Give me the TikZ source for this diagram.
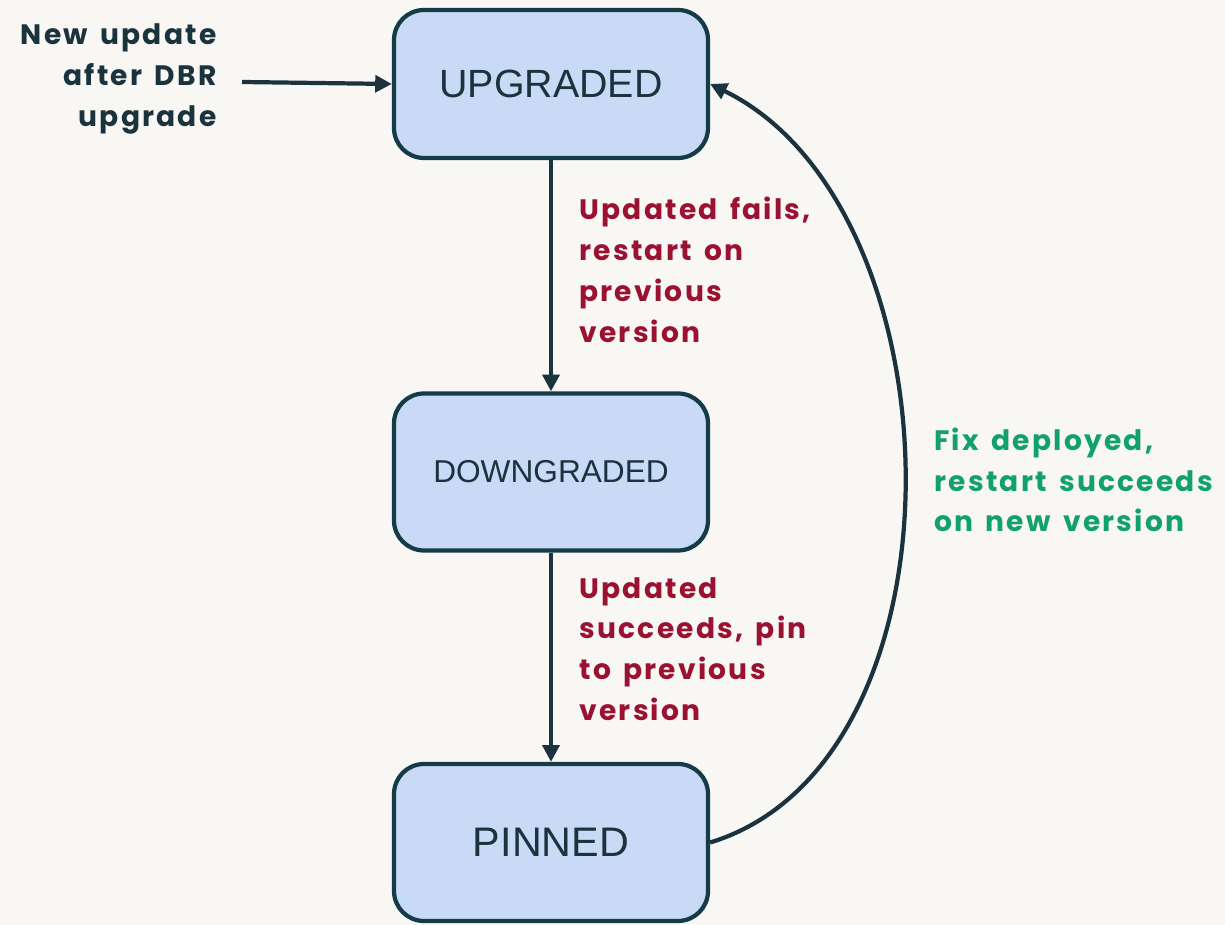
\documentclass[tikz,border=0pt]{standalone}
\usepackage{fontspec}
\setmainfont{Liberation Sans}
\newfontfamily\notefont[LetterSpace=8,WordSpace=1.5]{Poppins}
\usetikzlibrary{arrows.meta}

\definecolor{bgcol}{HTML}{F8F7F4}
\definecolor{boxfill}{HTML}{C8DAF5}
\definecolor{boxline}{HTML}{143B47}
\definecolor{inkcol}{HTML}{1B333D}
\definecolor{failcol}{HTML}{9A1131}
\definecolor{fixcol}{HTML}{12A16E}

\tikzset{
	state/.style={draw=boxline, fill=boxfill, line width=2.4pt,
		rounded corners=0.6cm, minimum width=6.28cm, minimum height=3.14cm,
		text=inkcol, inner sep=0pt},
	flow/.style={draw=inkcol, line width=2.4pt,
		-{Triangle[length=9.5pt,width=9.5pt]}},
	note/.style={font=\notefont\bfseries\fontsize{16}{23.2}\selectfont,
		inner sep=0pt}
}

\begin{document}
\begin{tikzpicture}
	% --- canvas
	\fill[bgcol] (0,0) rectangle (24.5,18.5);
	\useasboundingbox (0,0) rectangle (24.5,18.5);

	% --- the three states
	\node[state, minimum height=2.96cm, font=\fontsize{22.4}{26}\selectfont]
		(upgraded) at (11.02,16.82) {UPGRADED};
	\node[state, font=\fontsize{18}{22}\selectfont]
		(downgraded) at (11.02,9.06) {DOWNGRADED};
	\node[state, font=\fontsize{23.5}{27}\selectfont]
		(pinned) at (11.02,1.65) {PINNED};

	% --- entry
	\node[note, text=inkcol, anchor=east, align=right] (entry) at (4.34,16.92)
		{New update\\after DBR\\upgrade};
	\coordinate (entryend) at (4.84,16.86);
	\draw[flow] (entryend) -- (upgraded.west);

	% --- transitions
	\draw[flow] (upgraded) -- (downgraded);
	\draw[flow] (downgraded) -- (pinned);
	\draw[flow] (pinned.east) .. controls +(5.3,1.62) and +(5.04,-2.46) .. (upgraded.east);

	% --- labels
	\node[note, text=failcol, anchor=west, align=left] (faillabel) at (11.58,13.1)
		{Updated fails,\\restart on\\previous\\version};
	\node[note, text=failcol, anchor=west, align=left] (pinlabel) at (11.58,5.52)
		{Updated\\succeeds, pin\\to previous\\version};
	\node[note, text=fixcol, anchor=west, align=left] (fixlabel) at (18.68,8.9)
		{Fix deployed,\\restart succeeds\\on new version};
\end{tikzpicture}
\end{document}
